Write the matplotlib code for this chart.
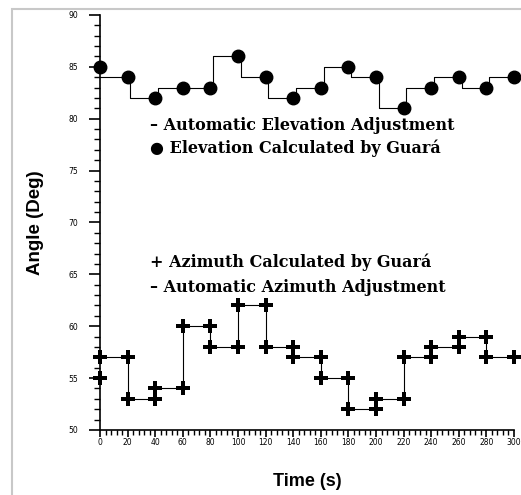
import matplotlib
matplotlib.use("Agg")
import matplotlib.pyplot as plt
from matplotlib.ticker import MultipleLocator
from matplotlib.patches import Rectangle

# time of each reading (s)
time = [0, 20, 40, 60, 80, 100, 120, 140, 160, 180, 200, 220, 240, 260, 280, 300]

# elevation (deg)
elev_calc = [85, 84, 82, 83, 83, 86, 84, 82, 83, 85, 84, 81, 83, 84, 83, 84]
elev_adj_time = [0, 22, 42, 62, 82, 102, 122, 142, 162, 182, 202, 222, 242, 262, 282, 300]
elev_adj = [84, 82, 83, 83, 86, 84, 82, 83, 85, 84, 81, 83, 84, 83, 84, 84]

# azimuth (deg)
az_calc = [55, 53, 54, 60, 58, 62, 58, 57, 55, 52, 53, 57, 58, 59, 57, 57]
az_adj_mark = [57, 57, 53, 54, 60, 58, 62, 58, 57, 55, 52, 53, 57, 58, 59, 57]
az_adj_level = [57, 53, 54, 60, 58, 62, 58, 57, 55, 52, 53, 57, 58, 59, 57, 57]

fig = plt.figure(figsize=(5.21, 4.95), dpi=100)
ax = fig.add_axes([100/521, 1-430/495, 414/521, 415/495])

# light grey frame round the picture
fig.patches.append(Rectangle((11.5/521, -0.5), 2, 1 - 9/495 + 0.5, transform=fig.transFigure,
                             fill=False, ec="#c8c8c8", lw=1.5))

ax.step(elev_adj_time, elev_adj, where="post", color="black", lw=0.8, clip_on=False)
ax.plot(time, elev_calc, "o", color="black", ms=9, clip_on=False, zorder=3)

ax.step(time, az_adj_level, where="post", color="black", lw=0.8, clip_on=False)
ax.plot(time, az_adj_mark, "P", color="black", ms=10.5, mew=0, clip_on=False, zorder=3)
ax.plot(time, az_calc, "P", color="black", ms=10.5, mew=0, clip_on=False, zorder=3)

ax.set_xlim(0, 300)
ax.set_ylim(50, 90)
ax.xaxis.set_major_locator(MultipleLocator(20))
ax.xaxis.set_minor_locator(MultipleLocator(4))
ax.yaxis.set_major_locator(MultipleLocator(5))
ax.yaxis.set_minor_locator(MultipleLocator(1))

for s in ["top", "right"]:
    ax.spines[s].set_visible(False)
for s in ["left", "bottom"]:
    ax.spines[s].set_linewidth(1.2)

ax.tick_params(axis="y", which="major", direction="out", length=8, width=1.2, pad=8, labelsize=5.5)
ax.tick_params(axis="y", which="minor", direction="out", length=4, width=1.0)
ax.tick_params(axis="x", which="major", direction="out", length=5, width=1.2, pad=1, labelsize=5.5)
ax.tick_params(axis="x", which="minor", direction="out", length=3.5, width=1.0)

ax.set_xlabel("Time (s)", fontsize=13, fontweight="bold", family="Liberation Sans")
ax.set_ylabel("Angle (Deg)", fontsize=13.5, fontweight="bold", family="Liberation Sans")
ax.xaxis.set_label_coords(0.5, (430-482)/415)
ax.yaxis.set_label_coords((35-100)/414, 0.5)
ax.xaxis.label.set_va("center")
ax.yaxis.label.set_va("center")

fam = ["DejaVu Serif", "DejaVu Sans"]
kw = dict(fontsize=11.5, fontweight="bold", family=fam, va="center", ha="left",
          transform=fig.transFigure)
fig.text(150/521, 1-126/495, "– Automatic Elevation Adjustment", **kw)
fig.text(150/521, 1-148/495, "● Elevation Calculated by Guará", **kw)
fig.text(150/521, 1-262/495, "+ Azimuth Calculated by Guará", **kw)
fig.text(150/521, 1-288/495, "– Automatic Azimuth Adjustment", **kw)

fig.savefig("out.png", dpi=100)
